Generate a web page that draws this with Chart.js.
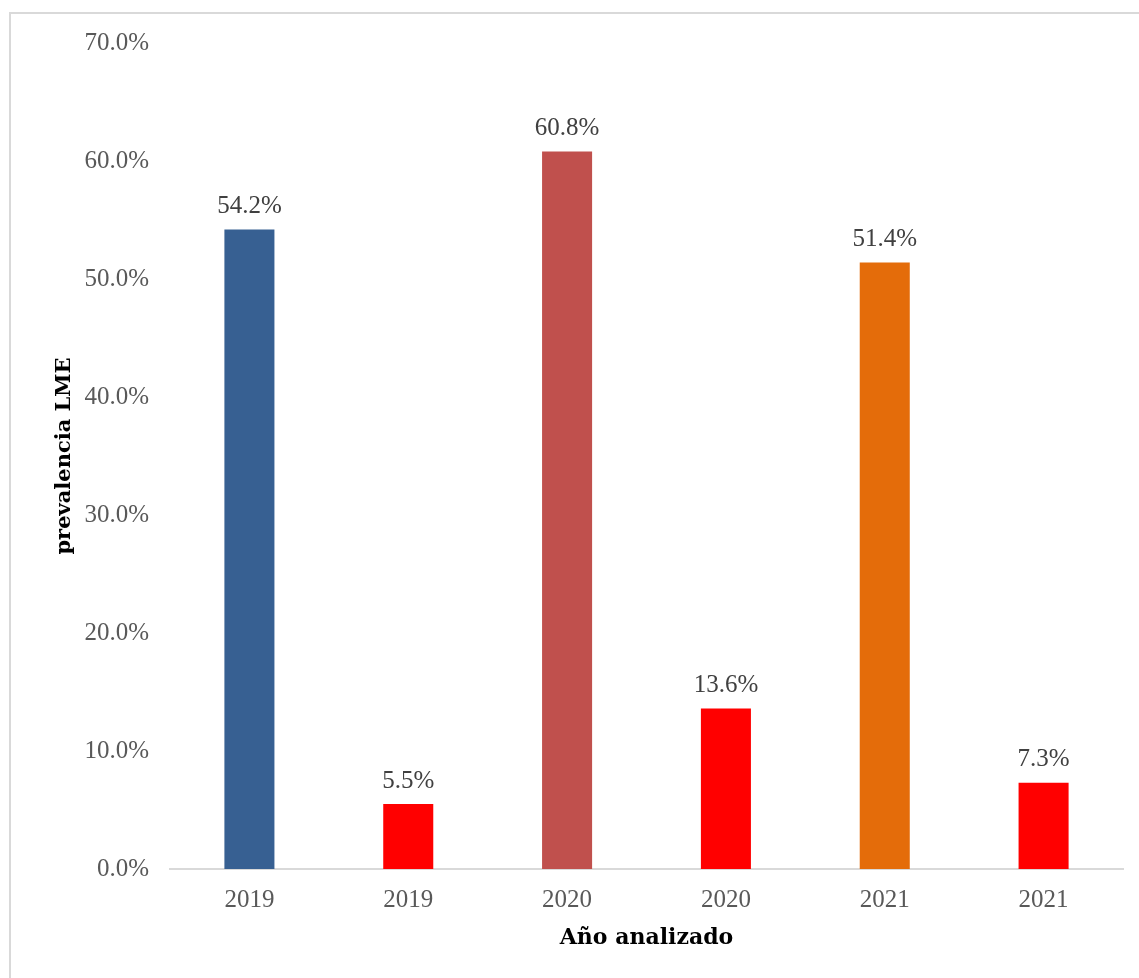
<!DOCTYPE html>
<html>
<head>
<meta charset="utf-8">
<script src="https://cdn.jsdelivr.net/npm/chart.js@4"></script>
<style>
    body { margin: 0; background: #fff; overflow: hidden; }
    #wrap { position: relative; width: 1139px; height: 978px; }
    #frame { position: absolute; left: 9px; top: 12px; width: 1200px; height: 1000px; border: 2px solid #d9d9d9; box-sizing: border-box; }
    canvas { position: absolute; left: 0; top: 0; }
</style>
</head>
<body>
<div id="wrap">
    <div id="frame"></div>
    <canvas id="chart" width="1139" height="978"></canvas>
</div>
<script>
// Chart data
const years = ['2019', '2019', '2020', '2020', '2021', '2021'];
const prevalence = [54.2, 5.5, 60.8, 13.6, 51.4, 7.3];
const barColors = ['#376092', '#ff0000', '#c0504d', '#ff0000', '#e46c0a', '#ff0000'];
const yTicks = [0, 10, 20, 30, 40, 50, 60, 70];

const serif = "'Liberation Serif', 'DejaVu Serif', serif";
const boldSerif = "'DejaVu Serif', 'Liberation Serif', serif";

// Plugin to write the value above each bar
const valueLabels = {
    id: 'valueLabels',
    afterDatasetsDraw(chart) {
        const ctx = chart.ctx;
        const meta = chart.getDatasetMeta(0);
        ctx.save();
        ctx.font = '25px ' + serif;
        ctx.fillStyle = '#404040';
        ctx.textAlign = 'center';
        ctx.textBaseline = 'middle';
        meta.data.forEach((bar, i) => {
            ctx.fillText(prevalence[i].toFixed(1) + '%', bar.x, bar.y - 23);
        });
        ctx.restore();
    }
};

new Chart(document.getElementById('chart'), {
    type: 'bar',
    data: {
        labels: years,
        datasets: [{
            data: prevalence,
            backgroundColor: barColors,
            categoryPercentage: 1,
            barPercentage: 0.315
        }]
    },
    options: {
        responsive: false,
        animation: false,
        layout: { padding: { left: 52, right: 16, top: 43, bottom: 27 } },
        plugins: {
            legend: { display: false },
            tooltip: { enabled: false }
        },
        scales: {
            x: {
                grid: { display: false },
                border: { display: true, color: '#d9d9d9', width: 2 },
                ticks: { color: '#595959', font: { family: serif, size: 25 }, padding: 8 },
                title: {
                    display: true,
                    text: 'Año analizado',
                    color: '#000',
                    font: { family: boldSerif, size: 22, weight: 'bold' },
                    padding: 0
                },
                afterFit(scale) { scale.height = 82; }
            },
            y: {
                min: 0,
                max: 70,
                grid: { display: false },
                border: { display: false },
                afterBuildTicks(scale) { scale.ticks = yTicks.map(v => ({ value: v })); },
                ticks: {
                    color: '#595959',
                    font: { family: serif, size: 25 },
                    padding: 13,
                    callback: v => v.toFixed(1) + '%'
                },
                title: {
                    display: true,
                    text: 'prevalencia LME',
                    color: '#000',
                    font: { family: boldSerif, size: 21, weight: 'bold' },
                    padding: 0
                },
                afterFit(scale) { scale.width = 118; }
            }
        }
    },
    plugins: [valueLabels]
});
</script>
</body>
</html>
